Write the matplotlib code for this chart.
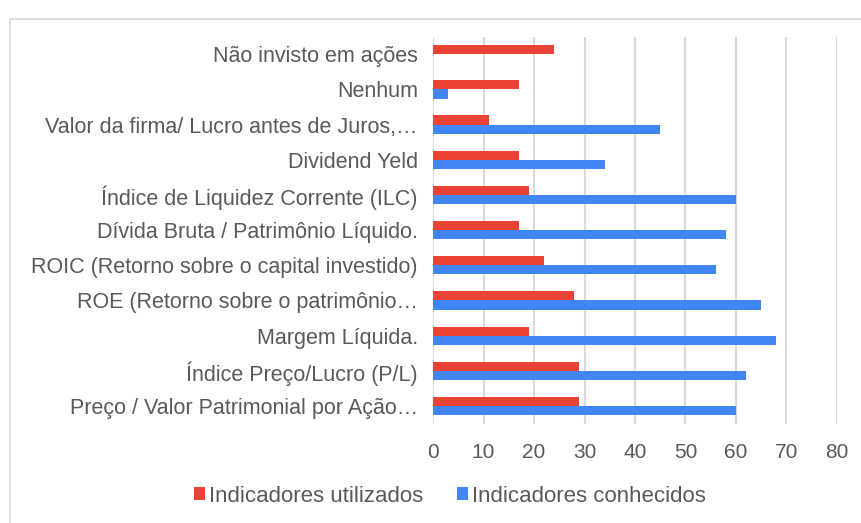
import matplotlib.pyplot as plt
import matplotlib.patches as mpatches
import numpy as np

categories = [
    "Preço / Valor Patrimonial por Ação…",
    "Índice Preço/Lucro (P/L)",
    "Margem Líquida.",
    "ROE (Retorno sobre o patrimônio…",
    "ROIC (Retorno sobre o capital investido)",
    "Dívida Bruta / Patrimônio Líquido.",
    "Índice de Liquidez Corrente (ILC)",
    "Dividend Yeld",
    "Valor da firma/ Lucro antes de Juros,…",
    "Nenhum",
    "Não invisto em ações",
]
utilizados = [29, 29, 19, 28, 22, 17, 19, 17, 11, 17, 24]
conhecidos = [60, 62, 68, 65, 56, 58, 60, 34, 45, 3, 0]
xticks = [0, 10, 20, 30, 40, 50, 60, 70, 80]

plt.rcParams['font.family'] = ['Liberation Sans', 'DejaVu Sans']
text_color = '#595959'
red = '#ea4335'
blue = '#4285f4'

fig = plt.figure(figsize=(8.61, 5.23), dpi=100)
ax = fig.add_axes([0.503, 0.19, 0.469, 0.74])

# outer chart border
fig.patches.append(mpatches.Rectangle(
    (10 / 861, -0.1), 1.0, 1 - 19 / 523 + 0.1, transform=fig.transFigure,
    fill=False, edgecolor='#d9d9d9', linewidth=1.2))

y = np.arange(len(categories))
h = 0.26
ax.barh(y + h / 2, utilizados, height=h, color=red, label='Indicadores utilizados', zorder=3)
ax.barh(y - h / 2, conhecidos, height=h, color=blue, label='Indicadores conhecidos', zorder=3)

ax.set_xlim(0, 80)
ax.set_ylim(-0.5, len(categories) - 0.5)
ax.set_xticks(xticks)
ax.set_yticks(y)
ax.set_yticklabels(categories)
ax.tick_params(axis='y', length=0, labelsize=15.5, colors=text_color, pad=11)
ax.tick_params(axis='x', length=0, labelsize=15, colors=text_color, pad=14)
ax.grid(axis='x', color='#d9d9d9', linewidth=1.5, zorder=0)
for s in ax.spines.values():
    s.set_visible(False)

leg = fig.legend(loc='center', bbox_to_anchor=(450 / 861, 1 - 496 / 523), ncol=2,
                 frameon=False, fontsize=16, handlelength=0.5, handleheight=0.5,
                 handletextpad=0.2, columnspacing=1.5)
for t in leg.get_texts():
    t.set_color(text_color)

fig.savefig('out.png', dpi=100)
